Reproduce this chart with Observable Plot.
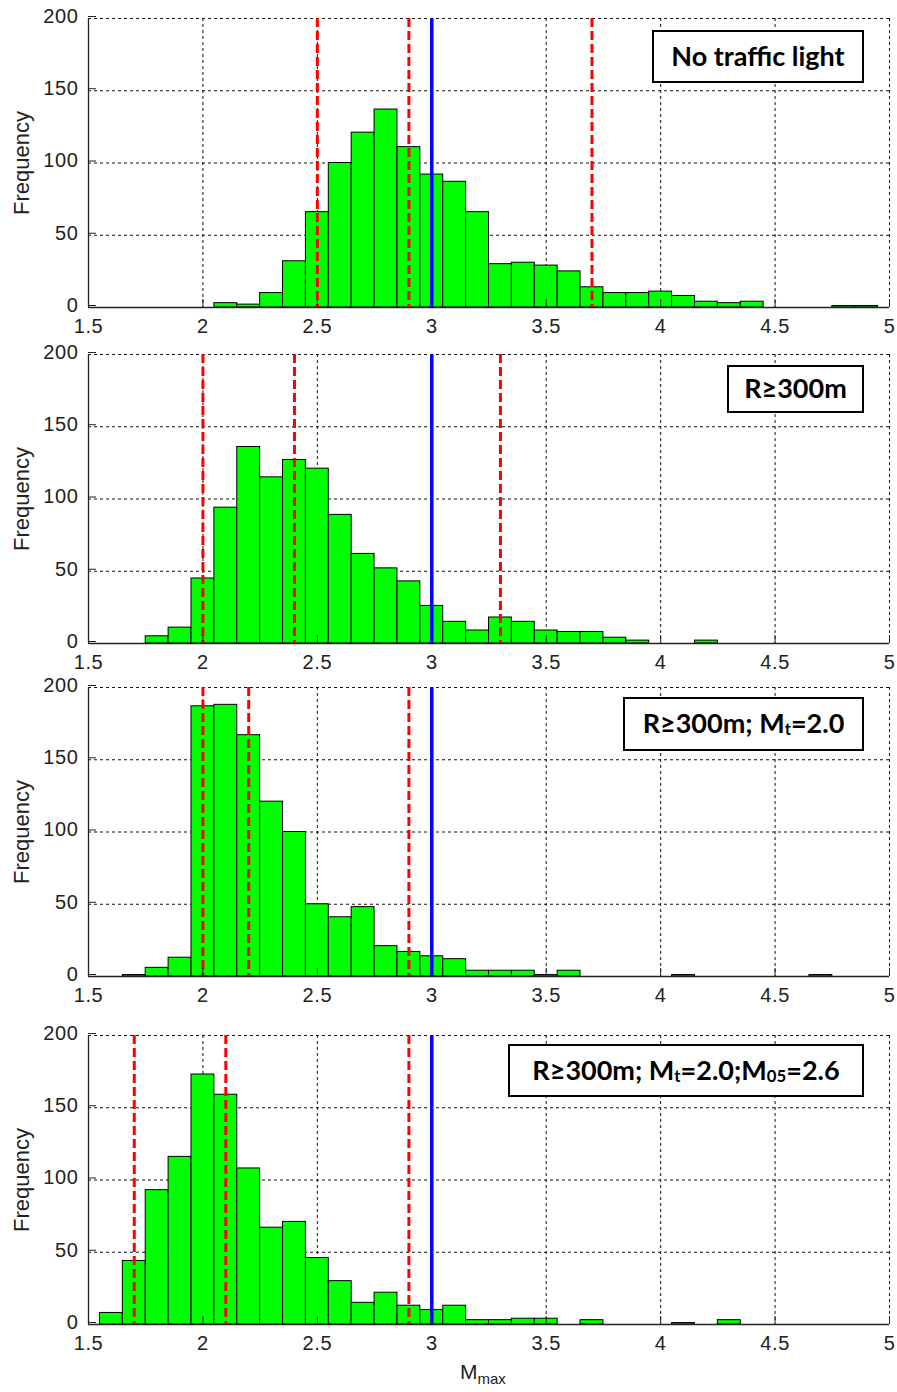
<!DOCTYPE html>
<html><head><meta charset="utf-8">
<script src="https://cdn.jsdelivr.net/npm/d3@7"></script>
<script src="https://cdn.jsdelivr.net/npm/@observablehq/plot@0.6"></script>
<style>
body{margin:0;background:#fff;}
#wrap{position:relative;width:897px;height:1392px;background:#fff;font-family:"Liberation Sans",Arial,sans-serif;overflow:hidden;}
.panel{position:absolute;left:0;}
.panel svg g[aria-label$="tick label"] text{letter-spacing:0.6px;}
.note{position:absolute;box-sizing:border-box;border:2px solid #000;background:#fff;display:flex;align-items:center;justify-content:center;font-family:Lato,"Open Sans",sans-serif;font-weight:700;font-size:27px;color:#000;white-space:nowrap;padding-bottom:3px;}
.note sub{font-size:0.62em;vertical-align:baseline;position:relative;top:0.4em;line-height:0;}
#xlab{position:absolute;font-family:"Liberation Sans",Arial,sans-serif;font-size:21px;color:#222;}
#xlab sub{font-size:15px;vertical-align:-0.35em;}
</style></head>
<body><div id="wrap"></div>
<script>
// ---- data ----
const xTicks = [1.5, 2, 2.5, 3, 3.5, 4, 4.5, 5];
const yTicks = [0, 50, 100, 150, 200];

const centers1 = [2.1,2.2,2.3,2.4,2.5,2.6,2.7,2.8,2.9,3.0,3.1,3.2,3.3,3.4,3.5,3.6,3.7,3.8,3.9,4.0,4.1,4.2,4.3,4.4,4.5,4.6,4.7,4.8,4.9];
const counts1  = [3,2,10,32,66,100,121,137,111,92,87,66,30,31,29,25,14,10,10,11,8,4,3,4,0,0,0,1,1];

const centers2 = [1.8,1.9,2.0,2.1,2.2,2.3,2.4,2.5,2.6,2.7,2.8,2.9,3.0,3.1,3.2,3.3,3.4,3.5,3.6,3.7,3.8,3.9,4.0,4.1,4.2];
const counts2  = [5,11,45,94,136,115,127,121,89,62,52,43,26,15,9,18,15,9,8,8,4,2,0,0,2];

const centers3 = [1.7,1.8,1.9,2.0,2.1,2.2,2.3,2.4,2.5,2.6,2.7,2.8,2.9,3.0,3.1,3.2,3.3,3.4,3.5,3.6,3.7,3.8,3.9,4.0,4.1,4.2,4.3,4.4,4.5,4.6,4.7];
const counts3  = [1,6,13,187,188,167,121,100,50,41,48,21,17,14,12,4,4,4,1,4,0,0,0,0,1,0,0,0,0,0,1];

const centers4 = [1.6,1.7,1.8,1.9,2.0,2.1,2.2,2.3,2.4,2.5,2.6,2.7,2.8,2.9,3.0,3.1,3.2,3.3,3.4,3.5,3.6,3.7,3.8,3.9,4.0,4.1,4.2,4.3];
const counts4  = [8,44,93,116,173,159,108,67,71,46,30,15,22,13,10,13,3,3,4,4,0,3,0,0,0,1,0,3];

const binWidth = 0.1;
const redLines1 = [2.5, 2.9, 3.7];
const redLines2 = [2.0, 2.4, 3.3];
const redLines3 = [2.0, 2.2, 2.9];
const redLines4 = [1.7, 2.1, 2.9];
const blueLine = [3.0];

const notes = [
  "No traffic light",
  "R\u2265300m",
  "R\u2265300m; M<sub>t</sub>=2.0",
  "R\u2265300m; M<sub>t</sub>=2.0;M<sub>05</sub>=2.6"
];
const yLabel = "Frequency";

// ---- layout ----
const panels = [
  {centers: centers1, counts: counts1, red: redLines1, plotTop: 18,   note: {l: 652, t: 30,   w: 212, h: 53}},
  {centers: centers2, counts: counts2, red: redLines2, plotTop: 354,  note: {l: 727, t: 365,  w: 137, h: 48}},
  {centers: centers3, counts: counts3, red: redLines3, plotTop: 687,  note: {l: 623, t: 697,  w: 241, h: 54}},
  {centers: centers4, counts: counts4, red: redLines4, plotTop: 1035, note: {l: 508, t: 1044, w: 356, h: 53}}
];

const wrap = document.getElementById("wrap");
const mTop = 10, plotH = 289, mBottom = 36;

panels.forEach((p, i) => {
  const bins = p.centers.map((c, j) => ({c, n: p.counts[j]})).filter(d => d.n > 0);
  const chart = Plot.plot({
    width: 897,
    height: mTop + plotH + mBottom,
    marginLeft: 88,
    marginRight: 8,
    marginTop: mTop,
    marginBottom: mBottom,
    style: {background: "transparent", overflow: "visible", fontFamily: "'Liberation Sans', Arial, sans-serif", fontSize: "20px", color: "#222"},
    x: {domain: [1.5, 5], label: null},
    y: {domain: [0, 200], label: null},
    marks: [
      Plot.ruleX(xTicks.slice(1), {stroke: "#111", strokeWidth: 1, strokeDasharray: "3,3"}),
      Plot.ruleY(yTicks.slice(1), {stroke: "#111", strokeWidth: 1, strokeDasharray: "3,3"}),
      Plot.rectY(bins, {x1: d => d.c - binWidth / 2, x2: d => d.c + binWidth / 2, y: "n", fill: "#00ff00", stroke: "#000", strokeWidth: 1}),
      Plot.ruleX([1.5], {stroke: "#222", strokeWidth: 1.3}),
      Plot.ruleY([0], {stroke: "#222", strokeWidth: 1.3}),
      Plot.ruleX(p.red, {stroke: "#ff0000", strokeWidth: 3, strokeDasharray: "9,4"}),
      Plot.ruleX(blueLine, {stroke: "#0000ff", strokeWidth: 3.5}),
      Plot.axisX({ticks: xTicks, tickSize: -8, tickPadding: 19, tickFormat: d => String(d), stroke: "#222", fill: "#222"}),
      Plot.axisY({ticks: yTicks, tickSize: -8, tickPadding: 18, tickFormat: d => String(d), stroke: "#222", fill: "#222", dy: -2}),
      Plot.text([yLabel], {text: d => d, frameAnchor: "left", textAnchor: "middle", rotate: -90, dx: -67, fontSize: 22, fill: "#222"})
    ]
  });
  const holder = document.createElement("div");
  holder.className = "panel";
  holder.style.top = (p.plotTop - mTop) + "px";
  holder.appendChild(chart);
  wrap.appendChild(holder);

  const nd = document.createElement("div");
  nd.className = "note";
  nd.style.left = p.note.l + "px";
  nd.style.top = p.note.t + "px";
  nd.style.width = p.note.w + "px";
  nd.style.height = p.note.h + "px";
  nd.innerHTML = notes[i];
  wrap.appendChild(nd);
});

const xl = document.createElement("div");
xl.id = "xlab";
xl.style.left = "460px";
xl.style.top = "1360px";
xl.innerHTML = "M<sub>max</sub>";
wrap.appendChild(xl);
</script>
</body></html>
